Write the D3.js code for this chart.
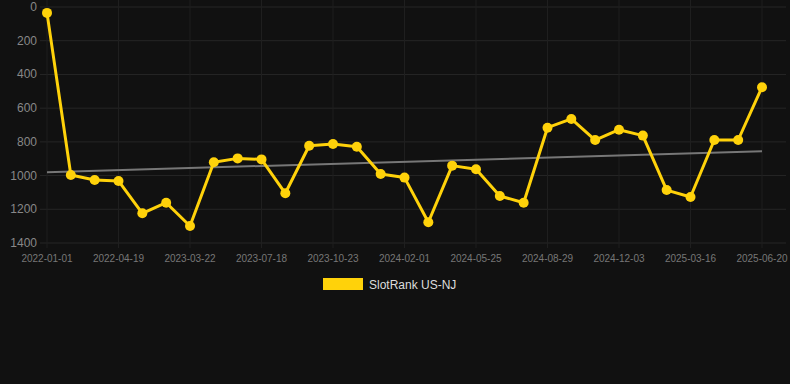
<!DOCTYPE html>
<html><head><meta charset="utf-8">
<script src="https://cdn.jsdelivr.net/npm/d3@7"></script>
<style>html,body{margin:0;padding:0;background:#111111;}svg{display:block;}</style>
</head><body>
<script>
const dates = ["2022-01-01","2022-02-05","2022-03-15","2022-04-19","2022-06-01","2022-08-10","2023-03-22","2023-04-20","2023-05-30","2023-07-18","2023-08-20","2023-09-20","2023-10-23","2023-11-25","2023-12-28","2024-02-01","2024-03-05","2024-04-15","2024-05-25","2024-06-30","2024-07-28","2024-08-29","2024-10-01","2024-11-01","2024-12-03","2025-01-10","2025-02-10","2025-03-16","2025-04-15","2025-05-20","2025-06-20"];
const ranks = [35,997,1026,1032,1224,1161,1299,921,898,904,1105,823,813,829,991,1012,1277,941,963,1121,1161,716,664,789,728,763,1086,1127,789,789,476];
const yTicks = [0,200,400,600,800,1000,1200,1400];
const seriesName = "SlotRank US-NJ";

const W=790,H=384;
const svg=d3.select("body").append("svg").attr("width",W).attr("height",H);
svg.append("rect").attr("width",W).attr("height",H).attr("fill","#111111");

const x=d3.scalePoint().domain(d3.range(dates.length)).range([47,762]);
const y=d3.scaleLinear().domain([0,1400]).range([7,243]);
const gridL=40, gridR=786;

svg.append("g").selectAll("line").data(yTicks).join("line")
 .attr("x1",gridL).attr("x2",gridR).attr("y1",d=>y(d)).attr("y2",d=>y(d))
 .attr("stroke","#262626").attr("stroke-width",1);
const xTickIdx = d3.range(0,dates.length,3);
svg.append("g").selectAll("line").data(xTickIdx).join("line")
 .attr("x1",d=>x(d)).attr("x2",d=>x(d)).attr("y1",0).attr("y2",248)
 .attr("stroke","#1f1f1f").attr("stroke-width",1);

svg.append("g").selectAll("text").data(yTicks).join("text")
 .attr("x",37).attr("y",d=>y(d)+4).attr("text-anchor","end")
 .attr("font-family","Liberation Sans, Arial, sans-serif").attr("font-size",12)
 .attr("fill","#888").text(d=>d);
svg.append("g").selectAll("text").data(xTickIdx).join("text")
 .attr("x",d=>x(d)).attr("y",262).attr("text-anchor","middle")
 .attr("font-family","Liberation Sans, Arial, sans-serif").attr("font-size",10)
 .attr("fill","#777").text(d=>dates[d]);

const n=ranks.length, mx=d3.mean(d3.range(n)), my=d3.mean(ranks);
let sxy=0,sxx=0; ranks.forEach((v,i)=>{sxy+=(i-mx)*(v-my);sxx+=(i-mx)*(i-mx);});
const b=sxy/sxx, a=my-b*mx;
svg.append("line").attr("x1",x(0)).attr("y1",y(a)).attr("x2",x(n-1)).attr("y2",y(a+b*(n-1)))
 .attr("stroke","#777").attr("stroke-width",2);

const col="#FFD20A";
svg.append("path").datum(ranks).attr("fill","none").attr("stroke",col).attr("stroke-width",3)
 .attr("stroke-linejoin","round")
 .attr("d",d3.line().x((d,i)=>x(i)).y(d=>y(d)));
svg.append("g").selectAll("circle").data(ranks).join("circle")
 .attr("cx",(d,i)=>x(i)).attr("cy",d=>y(d)).attr("r",5).attr("fill",col);

svg.append("rect").attr("x",323).attr("y",278).attr("width",40).attr("height",12).attr("fill",col);
svg.append("text").attr("x",369).attr("y",289).attr("font-family","Liberation Sans, Arial, sans-serif")
 .attr("font-size",12).attr("fill","#dddddd").text(seriesName);
</script>
</body></html>
